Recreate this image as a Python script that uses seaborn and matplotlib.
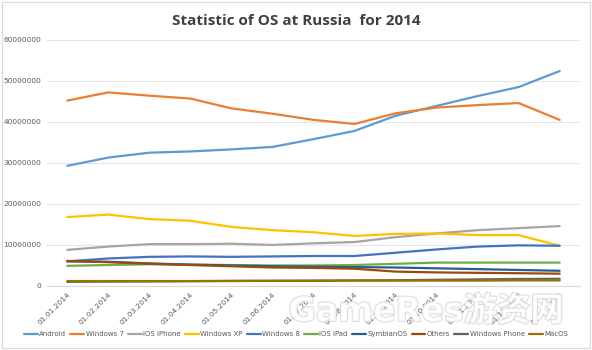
import pandas as pd
import seaborn as sns
import matplotlib.pyplot as plt
import matplotlib.patheffects as pe
from matplotlib.ticker import FuncFormatter

# data (users, monthly)
dates = ["01.01.2014", "01.02.2014", "01.03.2014", "01.04.2014", "01.05.2014",
         "01.06.2014", "01.07.2014", "01.08.2014", "01.09.2014", "01.10.2014",
         "01.11.2014", "01.12.2014", "01.01.2015"]

android = [29.3, 31.3, 32.5, 32.8, 33.3, 33.9, 35.8, 37.8, 41.5, 43.9, 46.3, 48.5, 52.4]
windows7 = [45.2, 47.2, 46.4, 45.7, 43.3, 42.0, 40.5, 39.5, 42.1, 43.5, 44.1, 44.6, 40.5]
ios_iphone = [8.8, 9.6, 10.2, 10.2, 10.3, 10.0, 10.4, 10.7, 11.9, 12.8, 13.6, 14.1, 14.6]
windows_xp = [16.8, 17.4, 16.3, 15.9, 14.4, 13.6, 13.1, 12.2, 12.7, 12.8, 12.4, 12.4, 9.8]
windows8 = [6.0, 6.7, 7.1, 7.2, 7.1, 7.2, 7.3, 7.3, 8.1, 8.9, 9.6, 9.9, 9.8]
ios_ipad = [4.9, 5.1, 5.3, 5.2, 5.1, 5.0, 5.0, 5.1, 5.4, 5.7, 5.7, 5.7, 5.7]
symbian = [6.0, 5.9, 5.5, 5.2, 5.0, 4.8, 4.7, 4.6, 4.5, 4.3, 4.1, 3.9, 3.7]
others = [6.1, 5.8, 5.4, 5.1, 4.8, 4.5, 4.4, 4.2, 3.5, 3.3, 3.2, 3.1, 3.0]
windows_phone = [1.0, 1.05, 1.1, 1.15, 1.2, 1.25, 1.3, 1.35, 1.4, 1.5, 1.6, 1.7, 1.75]
macos = [1.2, 1.2, 1.2, 1.2, 1.25, 1.25, 1.25, 1.3, 1.3, 1.3, 1.3, 1.35, 1.35]

series = {
    "Android": android,
    "Windows 7": windows7,
    "iOS iPhone": ios_iphone,
    "Windows XP": windows_xp,
    "Windows 8": windows8,
    "iOS iPad": ios_ipad,
    "SymbianOS": symbian,
    "Others": others,
    "Windows Phone": windows_phone,
    "MacOS": macos,
}
colors = ["#5B9BD5", "#ED7D31", "#A5A5A5", "#FFC000", "#4472C4",
          "#70AD47", "#255E91", "#9E480E", "#636363", "#997300"]

rows = []
for name, vals in series.items():
    for i, v in enumerate(vals):
        rows.append({"date": dates[i], "x": i, "os": name, "users": v * 1e6})
df = pd.DataFrame(rows)

sns.set_style("white")
plt.rcParams['font.family'] = ['DejaVu Sans', 'Noto Sans CJK SC']

fig = plt.figure(figsize=(5.92, 3.5), dpi=100)
ax = fig.add_axes([0.079, 0.183, 0.901, 0.703])

sns.lineplot(data=df, x="x", y="users", hue="os", palette=dict(zip(series, colors)),
             linewidth=1.6, ax=ax, legend=False, zorder=3)

ax.set_xlim(-0.5, 12.5)
ax.set_ylim(0, 60000000)
ax.set_yticks(range(0, 60000001, 10000000))
ax.yaxis.set_major_formatter(FuncFormatter(lambda v, p: f"{int(v)}"))
ax.set_xticks(range(len(dates)))
ax.set_xticklabels(dates, rotation=45, ha="right", rotation_mode="anchor")
ax.tick_params(axis="both", labelsize=5.3, labelcolor="#595959", length=0, pad=4)
ax.grid(axis="y", color="#e6e6e6", linewidth=0.8)
for s in ["top", "right", "left"]:
    ax.spines[s].set_visible(False)
ax.spines["bottom"].set_color("#d9d9d9")
ax.set_xlabel("")
ax.set_ylabel("")

fig.text(0.5, 0.94, "Statistic of OS at Russia  for 2014", ha="center", va="center",
         fontsize=11, fontweight="bold", color="#404040", family="Open Sans")

handles = [plt.Line2D([], [], color=c, linewidth=1.6) for c in colors]
fig.legend(handles, list(series), loc="center", bbox_to_anchor=(0.5, 0.045), ncol=10,
           frameon=False, fontsize=5, handlelength=2.0, handletextpad=0.2,
           columnspacing=0.6, labelcolor="#595959")

# watermark
fig.text(0.72, 0.11, "GameRes游资网", ha="center", va="center", fontsize=24,
         fontweight="bold", color="white", alpha=0.85,
         path_effects=[pe.withStroke(linewidth=1.5, foreground="#d8d8d8")])

# light frame around the picture
fig.patches.append(plt.Rectangle((0.004, 0.006), 0.992, 0.988, transform=fig.transFigure,
                                 fill=False, edgecolor="#d9d9d9", linewidth=0.8))

fig.savefig("out.png", dpi=100)
